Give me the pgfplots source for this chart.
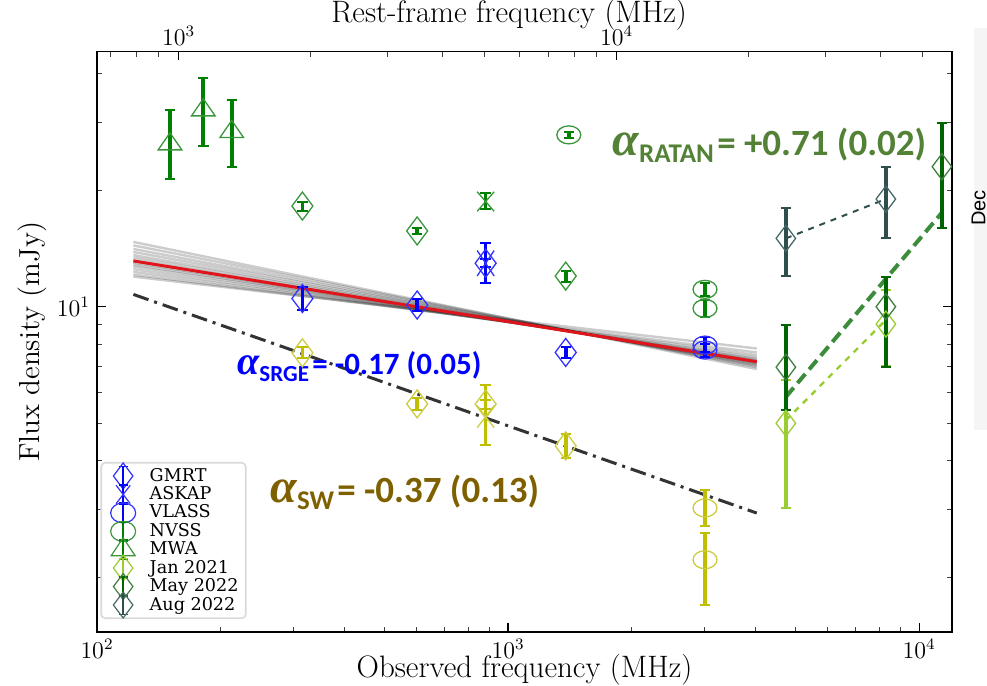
\documentclass[border=0pt]{standalone}
\usepackage{fontspec}
\usepackage{pgfplots}
\pgfplotsset{compat=1.18}
\usetikzlibrary{plotmarks}
\newfontfamily\djs{DejaVu Serif}
\newfontfamily\carb{Carlito}
\newfontfamily\grk{Liberation Serif}
\newfontfamily\lsans{Liberation Sans}

\definecolor{cblue}{HTML}{0000FF}
\definecolor{cblueE}{HTML}{3333FF}
\definecolor{cgreen}{HTML}{008000}
\definecolor{cgreenE}{HTML}{3A963A}
\definecolor{cmay}{HTML}{006400}
\definecolor{cmayE}{HTML}{3F7F3F}
\definecolor{caug}{HTML}{2F4F4F}
\definecolor{caugE}{HTML}{4A6A6A}
\definecolor{cjan}{HTML}{9ACD32}
\definecolor{cyel}{HTML}{BFBF00}
\definecolor{cyelE}{HTML}{CCCC44}
\definecolor{cratan}{HTML}{538135}
\definecolor{csw}{HTML}{7F6000}
\definecolor{cfit}{HTML}{3C8C3C}
\definecolor{cred}{HTML}{E0141B}

\pgfplotsset{
  pts/.style n args={5}{only marks, forget plot, mark=#1, mark size=#2,
     mark options={draw=#3, line width=0.65pt, fill=none, solid, #5},
     error bars/.cd, y dir=both, y explicit,
     error bar style={line width=1.8pt, draw=#4},
     error mark options={rotate=90, mark size=2.6pt, line width=1pt, draw=#4}},
  legerr/.style n args={5}{legend image code/.code={
     \path[draw=none, fill=none] (0cm,-0.1cm) rectangle (0.55cm,0.1cm);
     \begin{scope}[overlay]
     \draw[line width=1.3pt, #4] (0.28cm,-0.17cm) -- (0.28cm,0.17cm);
     \draw[line width=0.8pt, #4] (0.2cm,-0.17cm) -- (0.36cm,-0.17cm) (0.2cm,0.17cm) -- (0.36cm,0.17cm);
     \draw plot[only marks, mark=#1, mark size=#2, mark options={draw=#3, line width=0.6pt, fill=none, solid, #5}] coordinates {(0.28cm,0cm)};
     \end{scope}
  }},
}

\begin{document}
\begin{tikzpicture}
\fill[black!4] (438.5pt,101pt) rectangle (445pt,302pt);
\node[rotate=90, font=\lsans\fontsize{10}{10}\selectfont, anchor=center] at (440.8pt,212pt) {Dec};

% top (rest-frame) axis
\begin{axis}[
  at={(0,0)}, anchor=south west, scale only axis,
  width=427.5pt, height=290.15pt,
  xmode=log, xmin=651, xmax=58300, ymin=0, ymax=1,
  axis x line*=top, hide y axis, x axis line style={-, line width=0.8pt},
  xtick={1000,10000}, xticklabels={$10^3$,$10^4$},
  minor xtick={700,800,900,2000,3000,4000,5000,6000,7000,8000,9000,20000,30000,40000,50000},
  tick align=inside, major tick length=4.3pt, minor tick length=2.7pt,
  every tick/.style={black, line width=0.6pt},
  every minor tick/.style={black!75, line width=0.5pt},
  tick label style={font=\fontsize{12}{12}\selectfont},
  xticklabel style={yshift=-0.5pt},
  xlabel={Rest-frame frequency (MHz)},
  xlabel style={font=\fontsize{15.5}{15.5}\selectfont, at={(axis description cs:0.482,1)}, anchor=center, yshift=18.3pt},
]
\end{axis}

\begin{axis}[
  at={(0,0)}, anchor=south west, scale only axis,
  width=427.5pt, height=290.15pt,
  xmode=log, ymode=log, xmin=100, xmax=12020, ymin=1.444, ymax=45.6,
  xtick={100,1000,10000}, xticklabels={$10^2$,$10^3$,$10^4$},
  minor xtick={200,300,400,500,600,700,800,900,2000,3000,4000,5000,6000,7000,8000,9000},
  ytick={10}, yticklabels={$10^1$},
  minor ytick={2,3,4,5,6,7,8,9,20,30,40},
  xtick pos=left, ytick pos=both,
  tick align=inside, major tick length=4.3pt, minor tick length=2.7pt,
  every tick/.style={black, line width=0.6pt},
  every minor tick/.style={black!75, line width=0.5pt},
  axis line style={line width=0.8pt},
  tick label style={font=\fontsize{12}{12}\selectfont},
  xlabel={Observed frequency (MHz)},
  xlabel style={font=\fontsize{15.5}{15.5}\selectfont, at={(axis description cs:0.5,0)}, anchor=center, yshift=-19pt},
  ylabel={Flux density (mJy)},
  ylabel style={font=\fontsize{14.5}{14.5}\selectfont, at={(axis description cs:0,0.5)}, anchor=center, yshift=32.5pt},
  legend style={at={(0.004,0.293)}, anchor=north west, draw=black!15, line width=0.8pt,
     rounded corners=2pt, fill=white, font=\djs\fontsize{8.8}{10}\selectfont, row sep=0pt,
     inner xsep=3pt, inner ysep=2pt, nodes={inner sep=0.6pt},
     /tikz/every odd column/.append style={column sep=5pt}},
  legend cell align=left,
]
% legend entries
\addlegendimage{legerr={diamond}{6.5pt}{cblueE}{cblue}{}}\addlegendentry{GMRT}
\addlegendimage{legerr={x}{5pt}{cblueE}{cblue}{yscale=1.3}}\addlegendentry{ASKAP}
\addlegendimage{legerr={o}{5pt}{cblueE}{cblue}{xscale=1.25}}\addlegendentry{VLASS}
\addlegendimage{legerr={o}{5pt}{cgreenE}{cgreen}{xscale=1.25}}\addlegendentry{NVSS}
\addlegendimage{legerr={triangle}{6pt}{cgreenE}{cgreen}{xscale=1.15}}\addlegendentry{MWA}
\addlegendimage{legerr={diamond}{6.5pt}{cjan}{cjan}{}}\addlegendentry{Jan 2021}
\addlegendimage{legerr={diamond}{6.5pt}{cmayE}{cmay}{}}\addlegendentry{May 2022}
\addlegendimage{legerr={diamond}{6.5pt}{caugE}{caug}{}}\addlegendentry{Aug 2022}

% MCMC sample fits (grey band)
\addplot[forget plot, black, opacity=0.2, line width=1.2pt] coordinates {(122.6,14.7) (4027,6.90)};
\addplot[forget plot, black, opacity=0.2, line width=1.2pt] coordinates {(122.6,14.4) (4027,6.98)};
\addplot[forget plot, black, opacity=0.2, line width=1.2pt] coordinates {(122.6,14.1) (4027,7.03)};
\addplot[forget plot, black, opacity=0.2, line width=1.2pt] coordinates {(122.6,13.85) (4027,7.08)};
\addplot[forget plot, black, opacity=0.2, line width=1.2pt] coordinates {(122.6,13.6) (4027,7.12)};
\addplot[forget plot, black, opacity=0.2, line width=1.2pt] coordinates {(122.6,13.4) (4027,7.16)};
\addplot[forget plot, black, opacity=0.2, line width=1.2pt] coordinates {(122.6,13.2) (4027,7.20)};
\addplot[forget plot, black, opacity=0.2, line width=1.2pt] coordinates {(122.6,13.0) (4027,7.24)};
\addplot[forget plot, black, opacity=0.2, line width=1.2pt] coordinates {(122.6,12.85) (4027,7.28)};
\addplot[forget plot, black, opacity=0.2, line width=1.2pt] coordinates {(122.6,12.7) (4027,7.33)};
\addplot[forget plot, black, opacity=0.2, line width=1.2pt] coordinates {(122.6,12.5) (4027,7.40)};
\addplot[forget plot, black, opacity=0.2, line width=1.2pt] coordinates {(122.6,12.3) (4027,7.50)};
\addplot[forget plot, black, opacity=0.2, line width=1.2pt] coordinates {(122.6,12.1) (4027,7.62)};
\addplot[forget plot, black, opacity=0.2, line width=1.2pt] coordinates {(122.6,11.96) (4027,7.80)};
% best fit
\addplot[forget plot, cred, line width=1.5pt] coordinates {(122.6,13.13) (4027,7.21)};
% SW fit
\addplot[forget plot, black!80, line width=1.5pt, dash pattern=on 8pt off 3pt on 1.5pt off 3pt] coordinates {(122.6,10.76) (4027,2.93)};
% RATAN lines
\addplot[forget plot, caug, line width=1pt, dashed] coordinates {(4740,15.02) (8300,18.98)};
\addplot[forget plot, cfit, line width=2pt, dash pattern=on 6pt off 3pt] coordinates {(4740,5.85) (11360,17.5)};
\addplot[forget plot, cjan, line width=1.2pt, dashed] coordinates {(4740,5.09) (8300,9.24)};

% MWA
\addplot[pts={triangle}{5.7pt}{cgreenE}{cgreen}{xscale=1.2}] coordinates {
 (150.5,26.3) += (0,5.9) -= (0,4.9)
 (181.4,32.2) += (0,6.7) -= (0,6.2)
 (212.7,28.3) += (0,5.9) -= (0,5.4)
};
% green diamonds (other epoch)
\addplot[pts={diamond}{7pt}{cgreenE}{cgreen}{}] coordinates {
 (316,18.2) += (0,0.5) -= (0,0.5)
 (601,15.7) += (0,0.3) -= (0,0.3)
 (1381,12.0) += (0,0.4) -= (0,0.4)
};
\addplot[pts={x}{6pt}{cgreenE}{cgreen}{yscale=1.15}] coordinates {
 (882,18.7) += (0,1.0) -= (0,0.8)
};
% NVSS-like green circles
\addplot[pts={o}{4.5pt}{cgreenE}{cgreen}{xscale=1.33}] coordinates {
 (1405,27.8) += (0,0.5) -= (0,0.5)
 (3013,11.09) += (0,0.45) -= (0,0.45)
 (3013,9.9) += (0,0.5) -= (0,0.5)
};
% GMRT blue diamonds
\addplot[pts={diamond}{7pt}{cblueE}{cblue}{}] coordinates {
 (316,10.5) += (0,0.77) -= (0,0.7)
 (601,10.1) += (0,0.35) -= (0,0.35)
 (882,12.95) += (0,0.3) -= (0,0.3)
 (1381,7.62) += (0,0.27) -= (0,0.27)
};
% ASKAP
\addplot[pts={x}{6pt}{cblueE}{cblue}{yscale=1.5}] coordinates {
 (882,12.95) += (0,1.63) -= (0,1.45)
};
% VLASS
\addplot[pts={o}{4.5pt}{cblueE}{cblue}{xscale=1.33}] coordinates {
 (3013,7.96) += (0,0.41) -= (0,0.3)
 (3013,7.73) += (0,0.3) -= (0,0.3)
};
% yellow (other epoch)
\addplot[pts={diamond}{7pt}{cyelE}{cyel}{}] coordinates {
 (316,7.6) += (0,0.25) -= (0,0.25)
 (601,5.61) += (0,0.2) -= (0,0.2)
 (882,5.6) += (0,0.15) -= (0,0.15)
 (1381,4.37) += (0,0.33) -= (0,0.3)
};
\addplot[pts={x}{6pt}{cyelE}{cyel}{yscale=1.3}] coordinates {
 (882,5.2) += (0,1.08) -= (0,0.81)
};
\addplot[pts={o}{4.5pt}{cyelE}{cyel}{xscale=1.33}] coordinates {
 (3013,3.02) += (0,0.34) -= (0,0.3)
 (3013,2.22) += (0,0.38) -= (0,0.52)
};
% RATAN Jan 2021
\addplot[pts={diamond}{6.5pt}{cjan}{cjan}{}] coordinates {
 (4740,5.0) += (0,1.47) -= (0,1.98)
 (8300,9.02) += (0,2.0) -= (0,2.0)
};
% RATAN May 2022
\addplot[pts={diamond}{6.5pt}{cmayE}{cmay}{}] coordinates {
 (4740,6.98) += (0,1.99) -= (0,1.57)
 (8300,10.0) += (0,1.95) -= (0,3.0)
 (11360,23.0) += (0,6.9) -= (0,7.0)
};
% RATAN Aug 2022
\addplot[pts={diamond}{6.5pt}{caugE}{caug}{}] coordinates {
 (4740,15.02) += (0,2.94) -= (0,3.0)
 (8300,18.98) += (0,4.0) -= (0,3.9)
};

% annotations
\node[anchor=west, inner sep=0pt, text=cratan] at (axis cs:1791,26.17)
 {{\grk\bfseries\itshape\fontsize{24}{24}\selectfont α}\raisebox{-0.35em}{\carb\bfseries\fontsize{13.5}{13.5}\selectfont RATAN}\,{\carb\bfseries\fontsize{18.5}{18.5}\selectfont = +0.71 (0.02)}};
\node[anchor=west, inner sep=0pt, text=cblue] at (axis cs:219,6.99)
 {{\grk\bfseries\itshape\fontsize{20}{20}\selectfont α}\raisebox{-0.35em}{\carb\bfseries\fontsize{11.5}{11.5}\selectfont SRGE}\,{\carb\bfseries\fontsize{15.5}{15.5}\selectfont = -0.17 (0.05)}};
\node[anchor=west, inner sep=0pt, text=csw] at (axis cs:263.6,3.32)
 {{\grk\bfseries\itshape\fontsize{24}{24}\selectfont α}\raisebox{-0.35em}{\carb\bfseries\fontsize{13.5}{13.5}\selectfont SW}\,{\carb\bfseries\fontsize{18.5}{18.5}\selectfont = -0.37 (0.13)}};
\end{axis}

\pgfresetboundingbox
\useasboundingbox (-48.5pt,-27pt) rectangle (445pt,316pt);
\end{tikzpicture}
\end{document}
